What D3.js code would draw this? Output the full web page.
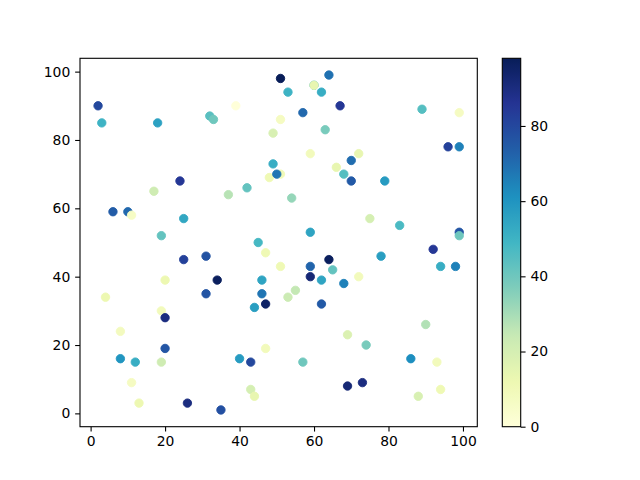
<!DOCTYPE html>
<html>
<head>
<meta charset="utf-8">
<script src="https://cdn.jsdelivr.net/npm/d3@7"></script>
<style>
  html, body { margin: 0; padding: 0; background: #fff; }
  svg { display: block; }
  text { font-family: "DejaVu Sans", sans-serif; }
</style>
</head>
<body>
<svg id="chart" width="640" height="480"></svg>
<script>
// ---- data ----
const xValues = [60, 2, 3, 18, 32, 33, 24, 17, 6, 10, 11, 25, 19, 51, 64, 60, 53, 62, 67, 39, 57, 51, 63, 49, 59,
  49, 51, 48, 50, 66, 68, 70, 37, 42, 54, 59, 45, 89, 99, 96, 99, 72, 70, 79, 75, 83, 99, 99, 92,
  25, 31, 34, 20, 4, 31, 19, 20, 8, 20, 8, 12, 19, 11, 13, 26, 35, 47, 51, 59, 64, 65, 59, 62, 68,
  46, 46, 47, 44, 55, 53, 62, 69, 47, 40, 43, 57, 69, 43, 44, 78, 94, 98, 72, 90, 74, 86, 93, 73, 94, 88];
const yValues = [96, 90, 85, 85, 87, 86, 68, 65, 59, 59, 58, 57, 52, 98, 99, 96, 94, 94, 90, 90, 88, 86, 83, 82, 76,
  73, 70, 69, 70, 72, 70, 68, 64, 66, 63, 53, 50, 89, 88, 78, 78, 76, 74, 68, 57, 55, 53, 52, 48,
  45, 46, 39, 39, 34, 35, 30, 28, 24, 19, 16, 15, 15, 9, 3, 3, 1, 47, 43, 43, 45, 42, 40, 39, 38,
  39, 35, 32, 31, 36, 34, 32, 23, 19, 16, 15, 15, 8, 7, 5, 46, 43, 43, 40, 26, 20, 16, 15, 9, 7, 5];
const colorValues = [50, 80, 50, 56, 44, 40, 85, 22, 74, 71, 6, 54, 42, 98, 69, 14, 50, 52, 85, 0, 71, 7, 38, 19, 9,
  52, 10, 11, 68, 14, 45, 75, 27, 42, 33, 55, 48, 45, 7, 82, 65, 14, 70, 58, 20, 47, 76, 40, 85,
  82, 77, 97, 12, 12, 76, 9, 90, 8, 76, 60, 52, 22, 7, 12, 90, 78, 11, 11, 72, 97, 42, 92, 55, 65,
  55, 68, 95, 57, 25, 23, 75, 18, 9, 58, 80, 40, 92, 20, 14, 57, 52, 65, 9, 28, 38, 62, 9, 90, 11, 19];
const xTicks = [0, 20, 40, 60, 80, 100];
const yTicks = [0, 20, 40, 60, 80, 100];
const cTicks = [0, 20, 40, 60, 80];
const cmapColors = ["#ffffd9", "#edf8b1", "#c7e9b4", "#7fcdbb", "#41b6c4", "#1d91c0", "#225ea8", "#253494", "#081d58"];

// ---- layout ----
const svg = d3.select("#chart");
svg.append("rect").attr("width", 640).attr("height", 480).attr("fill", "#fff");
const L = 80, R = 477.3, T = 58.3, B = 426.7;
const fs = 13.9, tickLen = 4.86, pad = 4.86, lw = 1.1;

function withMargin(arr) {
  const mn = d3.min(arr), mx = d3.max(arr), s = mx - mn;
  return [mn - 0.05 * s, mx + 0.05 * s];
}
const x = d3.scaleLinear().domain(withMargin(xValues)).range([L, R]);
const y = d3.scaleLinear().domain(withMargin(yValues)).range([B, T]);

const cMin = d3.min(colorValues), cMax = d3.max(colorValues);
const cmap = d3.scaleLinear()
  .domain(cmapColors.map((_, i) => cMin + (cMax - cMin) * i / (cmapColors.length - 1)))
  .range(cmapColors)
  .interpolate(d3.interpolateRgb);

// ---- points ----
const pts = xValues.map((v, i) => ({ x: v, y: yValues[i], c: colorValues[i] }));
svg.append("g").selectAll("circle").data(pts).join("circle")
  .attr("cx", d => x(d.x)).attr("cy", d => y(d.y)).attr("r", 4.2)
  .attr("fill", d => cmap(d.c)).attr("stroke", d => cmap(d.c)).attr("stroke-width", 0.9);

// ---- axes ----
function styleAxis(g) {
  g.selectAll("path.domain").remove();
  g.selectAll("line").attr("stroke", "#000").attr("stroke-width", lw);
  g.selectAll("text").attr("font-size", fs).attr("fill", "#000").attr("font-family", "DejaVu Sans, sans-serif");
}
svg.append("g").attr("transform", `translate(0,${B})`)
  .call(d3.axisBottom(x).tickValues(xTicks).tickSize(tickLen).tickPadding(pad).tickFormat(d3.format("d")))
  .call(styleAxis);
svg.append("g").attr("transform", `translate(${L},0)`)
  .call(d3.axisLeft(y).tickValues(yTicks).tickSize(tickLen).tickPadding(pad).tickFormat(d3.format("d")))
  .call(styleAxis);

svg.append("rect").attr("x", L).attr("y", T).attr("width", R - L).attr("height", B - T)
  .attr("fill", "none").attr("stroke", "#000").attr("stroke-width", lw);

// ---- colorbar ----
const CL = 502.3, CR = 520.7;
const cy = d3.scaleLinear().domain([cMin, cMax]).range([B, T]);
const defs = svg.append("defs");
const grad = defs.append("linearGradient").attr("id", "cbar")
  .attr("x1", 0).attr("y1", 1).attr("x2", 0).attr("y2", 0);
d3.range(0, 1.0001, 0.02).forEach(t => {
  grad.append("stop").attr("offset", t).attr("stop-color", cmap(cMin + t * (cMax - cMin)));
});
svg.append("rect").attr("x", CL).attr("y", T).attr("width", CR - CL).attr("height", B - T)
  .attr("fill", "url(#cbar)").attr("stroke", "#000").attr("stroke-width", lw);
svg.append("g").attr("transform", `translate(${CR},0)`)
  .call(d3.axisRight(cy).tickValues(cTicks).tickSize(tickLen).tickPadding(pad).tickFormat(d3.format("d")))
  .call(styleAxis);
</script>
</body>
</html>
